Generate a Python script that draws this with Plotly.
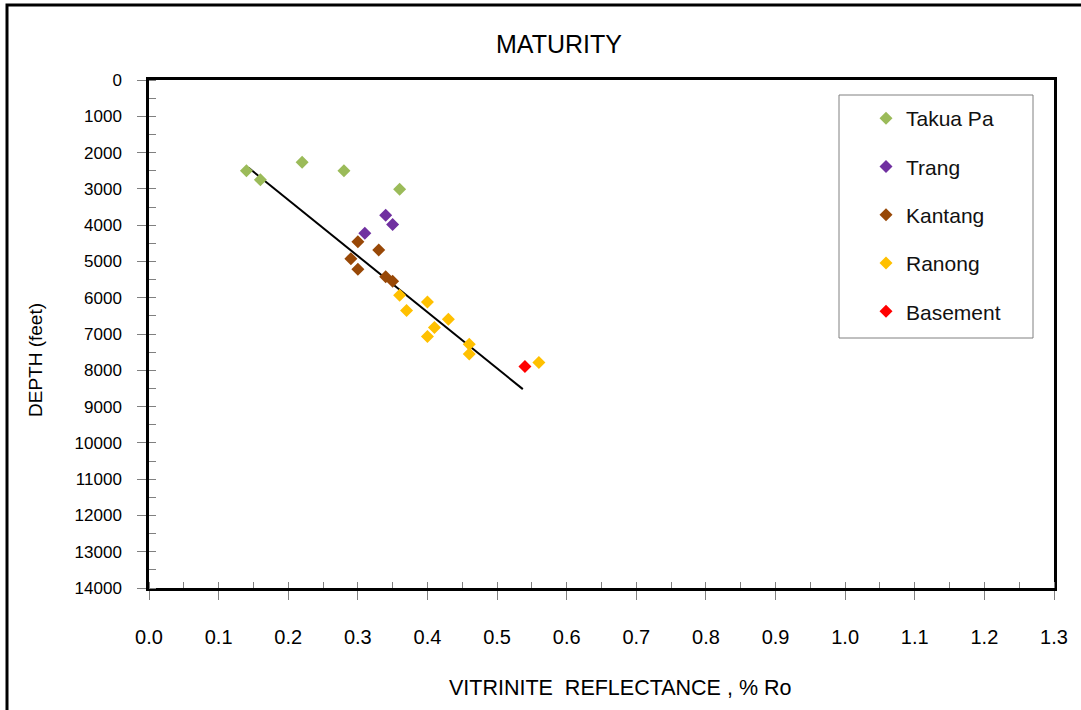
import plotly.graph_objects as go

# ---- data ----
takua_x = [0.14, 0.16, 0.22, 0.28, 0.36]
takua_y = [2500, 2750, 2270, 2500, 3010]
trang_x = [0.34, 0.35, 0.31]
trang_y = [3730, 3980, 4220]
kantang_x = [0.30, 0.33, 0.29, 0.30, 0.34, 0.35]
kantang_y = [4455, 4683, 4923, 5215, 5419, 5545]
ranong_x = [0.36, 0.40, 0.37, 0.43, 0.41, 0.40, 0.46, 0.46, 0.56]
ranong_y = [5931, 6116, 6355, 6592, 6824, 7072, 7281, 7548, 7788]
basement_x = [0.54]
basement_y = [7898]
trend_x = [0.143, 0.537]
trend_y = [2420, 8520]

series = [
    ("Takua Pa", takua_x, takua_y, "#9BBB59"),
    ("Trang", trang_x, trang_y, "#7030A0"),
    ("Kantang", kantang_x, kantang_y, "#984807"),
    ("Ranong", ranong_x, ranong_y, "#FFC000"),
    ("Basement", basement_x, basement_y, "#FF0000"),
]

FONT = "Liberation Sans, Arial, sans-serif"

fig = go.Figure()
fig.add_trace(go.Scatter(x=trend_x, y=trend_y, mode="lines",
                         line=dict(color="black", width=2), showlegend=False,
                         hoverinfo="skip"))
for name, xs, ys, col in series:
    fig.add_trace(go.Scatter(x=xs, y=ys, mode="markers", name=name,
                             legendgroup=name,
                             marker=dict(symbol="diamond", size=10, color=col,
                                         line=dict(width=0))))

# plot area pixel geometry
L, R, T, B = 149, 1054, 80, 588
W, H = R - L, B - T
def px(x):
    return (x - L) / W
def py(y):
    return (B - y) / H

shapes = [
    # outer frame (cropped at right/bottom)
    dict(type="rect", xref="paper", yref="paper",
         x0=px(7), x1=px(1100), y0=py(730), y1=py(5),
         line=dict(color="black", width=3), layer="below"),
    # legend box
    dict(type="rect", xref="paper", yref="paper",
         x0=px(839), x1=px(1033), y0=py(338), y1=py(95),
         line=dict(color="#808080", width=1), fillcolor="white", layer="below"),
]

annotations = [
    dict(text="MATURITY", xref="paper", yref="paper", x=px(559), y=py(44),
         showarrow=False, font=dict(family=FONT, size=25, color="black"),
         xanchor="center", yanchor="middle"),
    dict(text="VITRINITE&nbsp;&nbsp;REFLECTANCE , % Ro", xref="paper", yref="paper",
         x=px(620), y=py(688), showarrow=False,
         font=dict(family=FONT, size=21.5, color="black"),
         xanchor="center", yanchor="middle"),
    dict(text="DEPTH (feet)", xref="paper", yref="paper", x=px(35), y=py(360),
         showarrow=False, textangle=-90,
         font=dict(family=FONT, size=19, color="black"),
         xanchor="center", yanchor="middle"),
]

fig.update_layout(
    width=1081, height=710,
    margin=dict(l=L, r=1081 - R, t=T, b=710 - B),
    paper_bgcolor="white", plot_bgcolor="white",
    font=dict(family=FONT, color="black"),
    shapes=shapes, annotations=annotations,
    showlegend=True,
    legend=dict(x=px(866), y=py(98), xanchor="left", yanchor="top",
                bgcolor="rgba(0,0,0,0)", borderwidth=0,
                font=dict(family=FONT, size=21, color="#111111"),
                tracegroupgap=18, itemwidth=30),
)

fig.update_xaxes(range=[0, 1.3], dtick=0.1, tick0=0, tickformat=".1f",
                 showgrid=False, zeroline=False,
                 showline=True, linecolor="black", linewidth=2.5, mirror=True,
                 ticks="outside", ticklen=9, tickcolor="#808080", tickwidth=1,
                 minor=dict(dtick=0.05, ticks="inside", ticklen=6,
                            tickcolor="#808080", tickwidth=1, showgrid=False),
                 tickfont=dict(family=FONT, size=20, color="black"),
                 ticklabelstandoff=20)
fig.update_yaxes(range=[14000, 0], dtick=1000, tick0=0, tickformat="d",
                 showgrid=False, zeroline=False,
                 showline=True, linecolor="black", linewidth=2.5, mirror=True,
                 ticks="outside", ticklen=9, tickcolor="#808080", tickwidth=1,
                 minor=dict(dtick=500, ticks="inside", ticklen=7,
                            tickcolor="#808080", tickwidth=1, showgrid=False),
                 tickfont=dict(family=FONT, size=17, color="black"),
                 ticklabelstandoff=12)

fig.write_html("out.html")
